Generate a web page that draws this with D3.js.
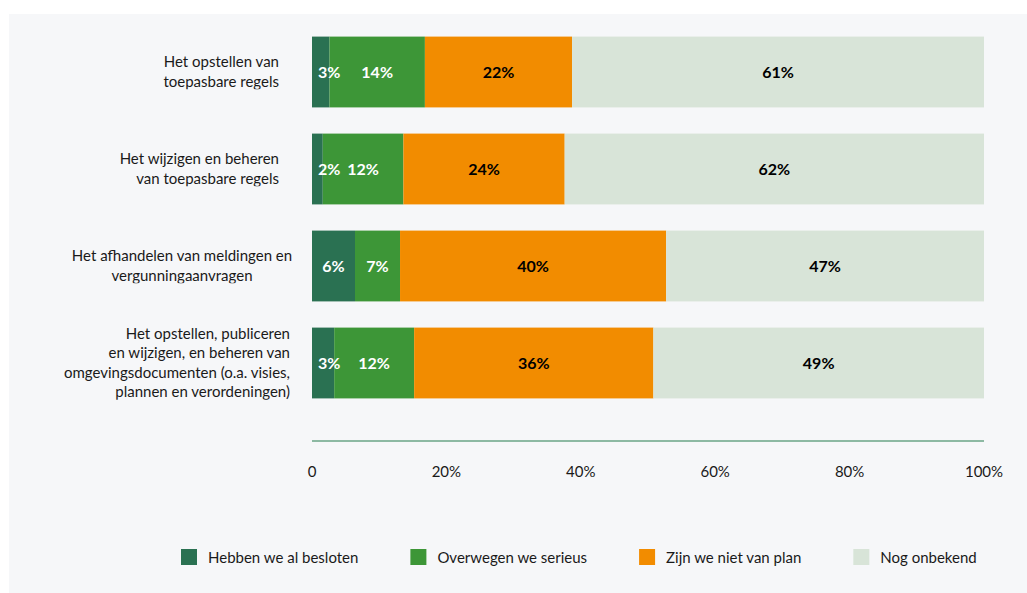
<!DOCTYPE html>
<html>
<head>
<meta charset="utf-8">
<script src="https://cdn.jsdelivr.net/npm/d3@7"></script>
<style>
  body { margin: 0; background: #ffffff; }
  svg { display: block; font-family: Lato, "Open Sans", sans-serif; }
</style>
</head>
<body>
<div id="vis"></div>
<script>
// data (percent per category)
const categoryLines = [
  ['Het opstellen van', 'toepasbare regels'],
  ['Het wijzigen en beheren', 'van toepasbare regels'],
  ['Het afhandelen van meldingen en', 'vergunningaanvragen'],
  ['Het opstellen, publiceren', 'en wijzigen, en beheren van', 'omgevingsdocumenten (o.a. visies,', 'plannen en verordeningen)']
]
const seriesNames = ['Hebben we al besloten', 'Overwegen we serieus', 'Zijn we niet van plan', 'Nog onbekend']
const hebben = [2.6, 1.6, 6.4, 3.3]
const overwegen = [14.2, 12.0, 6.7, 11.9]
const nietVanPlan = [21.9, 24.0, 39.6, 35.6]
const onbekend = [61.3, 62.4, 47.3, 49.2]
const tickValues = [0, 20, 40, 60, 80, 100]
const tickLabels = ['0', '20%', '40%', '60%', '80%', '100%']

// styles
const colors = ['#2a7152', '#3d9637', '#f28c00', '#d8e4d8']
const labelColors = ['#ffffff', '#ffffff', '#000000', '#000000']
const labelAlign = ['end', 'end', 'middle', 'end']

const W = 1027, H = 593
const margin = { top: 0, left: 312 }
const plotW = 672
const axisY = 441

const svg = d3.select('#vis').append('svg')
  .attr('width', W).attr('height', H)

// grey panel
svg.append('rect')
  .attr('x', 9).attr('y', 14).attr('width', W - 9).attr('height', H - 14)
  .attr('fill', '#f6f7f9')

const g = svg.append('g').attr('transform', `translate(${margin.left},${margin.top})`)

const xScale = d3.scaleLinear().domain([0, 100]).range([0, plotW])
const yScale = d3.scaleBand()
  .domain(d3.range(categoryLines.length))
  .range([23.5, 23.5 + 4 * 97])
  .paddingInner(0.27)
  .paddingOuter(0.135)

// build stacked rows
const table = categoryLines.map((c, i) => ({
  idx: i, s0: hebben[i], s1: overwegen[i], s2: nietVanPlan[i], s3: onbekend[i]
}))
const stack = d3.stack().keys(['s0', 's1', 's2', 's3'])(table)

const layers = g.selectAll('.layer')
  .data(stack)
  .join('g')
  .attr('class', 'layer')
  .attr('fill', (d, i) => colors[i])

layers.selectAll('rect')
  .data(d => d)
  .join('rect')
  .attr('x', d => xScale(d[0]))
  .attr('y', d => yScale(d.data.idx))
  .attr('width', d => xScale(d[1]) - xScale(d[0]))
  .attr('height', yScale.bandwidth())

// value labels
stack.forEach((layer, k) => {
  g.selectAll('.lbl' + k)
    .data(layer)
    .join('text')
    .attr('class', 'lbl' + k)
    .attr('font-weight', 700)
    .attr('font-size', 16)
    .attr('fill', labelColors[k])
    .attr('dy', '0.35em')
    .attr('y', d => yScale(d.data.idx) + yScale.bandwidth() / 2)
    .text(d => Math.round(d[1] - d[0]) + '%')
    .each(function (d) {
      const t = d3.select(this)
      const w = this.getComputedTextLength()
      const x0 = xScale(d[0]), x1 = xScale(d[1])
      if (w + 4 > x1 - x0) {
        t.attr('text-anchor', 'start').attr('x', x0 + 6)
      } else {
        t.attr('text-anchor', 'middle').attr('x', (x0 + x1) / 2)
      }
    })
})

// category labels (last line clipped like the original)
const lineH = 19.5
categoryLines.forEach((lines, i) => {
  const cy = yScale(i) + yScale.bandwidth() / 2
  const firstBase = cy - (lines.length - 1) * lineH / 2 + 5
  const lastBase = firstBase + (lines.length - 1) * lineH
  const clipId = 'clip' + i
  svg.append('clipPath').attr('id', clipId)
    .append('rect')
    .attr('x', 0).attr('y', firstBase - 20)
    .attr('width', margin.left).attr('height', lastBase + 2.5 - (firstBase - 20))

  const anchor = labelAlign[i]
  const xPos = anchor === 'middle' ? 182 : (lines.length > 2 ? 290 : 279)
  const t = svg.append('text')
    .attr('clip-path', `url(#${clipId})`)
    .attr('text-anchor', anchor)
    .attr('font-size', 15)
    .attr('fill', '#1a1a1a')
  lines.forEach((line, j) => {
    t.append('tspan')
      .attr('x', xPos)
      .attr('y', firstBase + j * lineH)
      .text(line)
  })
})

// x axis
g.append('line')
  .attr('x1', 0).attr('x2', plotW)
  .attr('y1', axisY).attr('y2', axisY)
  .attr('stroke', '#6aa486').attr('stroke-width', 1.5)

g.selectAll('.tick-label')
  .data(tickValues)
  .join('text')
  .attr('class', 'tick-label')
  .attr('x', d => xScale(d))
  .attr('y', 477)
  .attr('text-anchor', 'middle')
  .attr('font-size', 15)
  .attr('fill', '#1a1a1a')
  .text((d, i) => tickLabels[i])

// legend
const legend = svg.append('g').attr('transform', 'translate(181,549)')
let lx = 0
seriesNames.forEach((name, i) => {
  const item = legend.append('g').attr('transform', `translate(${lx},0)`)
  item.append('rect').attr('width', 16).attr('height', 16).attr('fill', colors[i])
  const txt = item.append('text')
    .attr('x', 27).attr('y', 14)
    .attr('font-size', 15)
    .attr('fill', '#1a1a1a')
    .text(name)
  lx += 27 + txt.node().getComputedTextLength() + 52
})
</script>
</body>
</html>
